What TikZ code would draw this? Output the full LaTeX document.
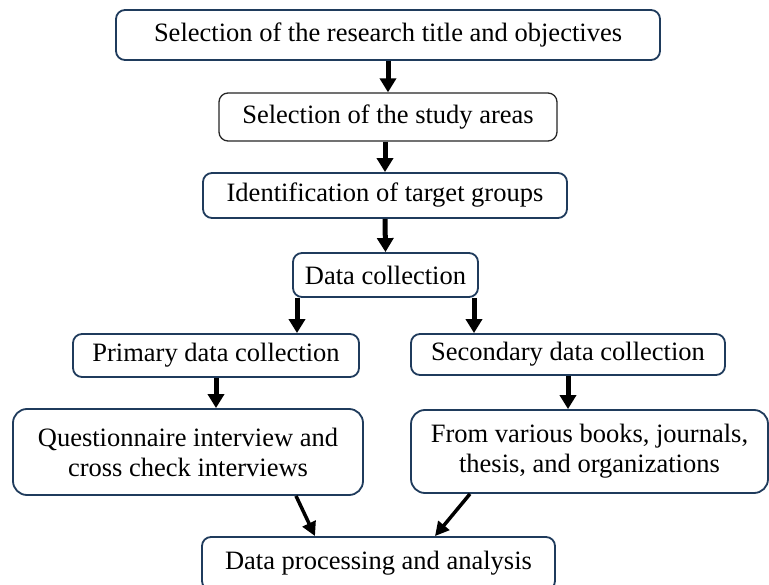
\documentclass[tikz,border=0pt]{standalone}
\usepackage{fontspec}
\setmainfont{Liberation Serif}
\usetikzlibrary{arrows.meta,calc}
\definecolor{navy}{HTML}{1F3B5C}
\begin{document}
\begin{tikzpicture}[x=1pt,y=-1pt,
  box/.style={draw=navy, line width=1.8pt, rounded corners=9pt, inner sep=0pt,
    font=\fontsize{26.5}{30}\selectfont, align=center, fill=white},
  bigbox/.style={box, rounded corners=14pt},
  arr/.style={line width=5pt, -{Triangle[width=16pt,length=14pt]}},
  darr/.style={line width=3.5pt, -{Triangle[width=14pt,length=14pt]}}]
\useasboundingbox (0,0) rectangle (769,585);
\clip (0,0) rectangle (769,585);
\node[box, minimum width=544, minimum height=50] (t1) at (388,35) {Selection of the research title and objectives};
\node[box, draw=black!85, line width=1.3pt, minimum width=338, minimum height=48] (t2) at (388,117) {Selection of the study areas};
\node[box, minimum width=364, minimum height=45] (t3) at (385,195.5) {Identification of target groups};
\node[box, minimum width=185, minimum height=44] (t4) at (385.5,275) {Data collection};
\node[box, minimum width=286, minimum height=43] (p) at (216,355.5) {Primary data collection};
\node[box, minimum width=314, minimum height=41] (s) at (568,354.5) {Secondary data collection};
\node[bigbox, minimum width=350, minimum height=86] (q) at (188,452) {Questionnaire interview and\\cross check interviews};
\node[bigbox, minimum width=357, minimum height=83] (f) at (589.5,451.5) {From various books, journals,\\thesis, and organizations};
\node[box, minimum width=353, minimum height=53] (d) at (378.5,563.5) {Data processing and analysis};

\draw[arr] (t1.south) -- (t2.north);
\draw[arr] (t3.north |- t2.south) -- (t3.north);
\draw[arr] (t3.south) -- (t4.north);
\draw[arr] ([xshift=-88.5]t4.south) -- ([xshift=-88.5]t4.south |- p.north);
\draw[arr] ([xshift=88.5]t4.south) -- ([xshift=88.5]t4.south |- s.north);
\draw[arr] (p.south) -- (p.south |- q.north);
\draw[arr] (s.south) -- (s.south |- f.north);
\draw[darr] ([xshift=108]q.south) -- ([xshift=-63.5]d.north);
\draw[darr] ([xshift=-119.5]f.south) -- ([xshift=56.5]d.north);
\end{tikzpicture}
\end{document}
